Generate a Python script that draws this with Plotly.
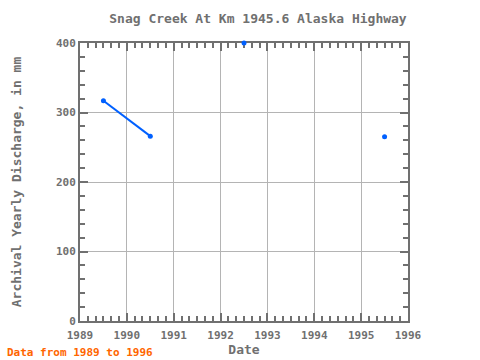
import plotly.graph_objects as go

years = [1989.5, 1990.5, 1991.5, 1992.5, 1993.5, 1994.5, 1995.5]
discharge = [317, 266, None, 400, None, None, 265]
x_ticks = [1989, 1990, 1991, 1992, 1993, 1994, 1995, 1996]
y_ticks = [0, 100, 200, 300, 400]

FONT = "DejaVu Sans Mono"
GREY = "#707070"
BLUE = "#0060ff"

fig = go.Figure()
fig.add_trace(go.Scatter(
    x=years, y=discharge, mode="lines+markers",
    line=dict(color=BLUE, width=2),
    marker=dict(color=BLUE, size=5),
    connectgaps=False, cliponaxis=False, showlegend=False,
))

axis_common = dict(
    showline=True, linecolor=GREY, linewidth=2, mirror="allticks",
    ticks="inside", ticklen=8, tickwidth=2, tickcolor=GREY,
    showgrid=True, gridcolor="#b4b4b4", gridwidth=1, zeroline=False,
    tickfont=dict(family=FONT, size=11, color=GREY), automargin=False,
    layer="below traces",
)

fig.update_xaxes(
    range=[1989, 1996], tickvals=x_ticks, ticktext=[f"<b>{v}</b>" for v in x_ticks],
    title=dict(text="<b>Date</b>", font=dict(family=FONT, size=13, color=GREY), standoff=2),
    minor=dict(ticks="inside", dtick=1/6, tick0=1989, ticklen=5, tickwidth=2, tickcolor=GREY, showgrid=False),
    ticklabelstandoff=3,
    **axis_common,
)
fig.update_yaxes(
    range=[0, 400], tickvals=y_ticks, ticktext=[f"<b>{v}</b>" for v in y_ticks],
    title=dict(text="<b>Archival Yearly Discharge, in mm</b>", font=dict(family=FONT, size=13, color=GREY), standoff=31),
    minor=dict(ticks="inside", dtick=20, tick0=0, ticklen=5, tickwidth=2, tickcolor=GREY, showgrid=False),
    **axis_common,
)

fig.update_layout(
    width=480, height=360,
    margin=dict(l=80, r=72, t=43, b=39),
    paper_bgcolor="white", plot_bgcolor="white",
    title=dict(text="<b>Snag Creek At Km 1945.6 Alaska Highway</b>", x=258/480, xanchor="center",
               y=1 - 18/360, yanchor="middle",
               font=dict(family=FONT, size=13, color=GREY)),
    annotations=[dict(text="<b>Data from 1989 to 1996</b>", xref="paper", yref="paper",
                      x=-75/328, y=-31/278, xanchor="left", yanchor="middle", showarrow=False,
                      font=dict(family=FONT, size=11, color="#ff6600"))],
)

fig.write_html("out.html", config={"displayModeBar": False},
               post_script="document.body.style.margin='0';document.body.style.overflow='hidden';")
